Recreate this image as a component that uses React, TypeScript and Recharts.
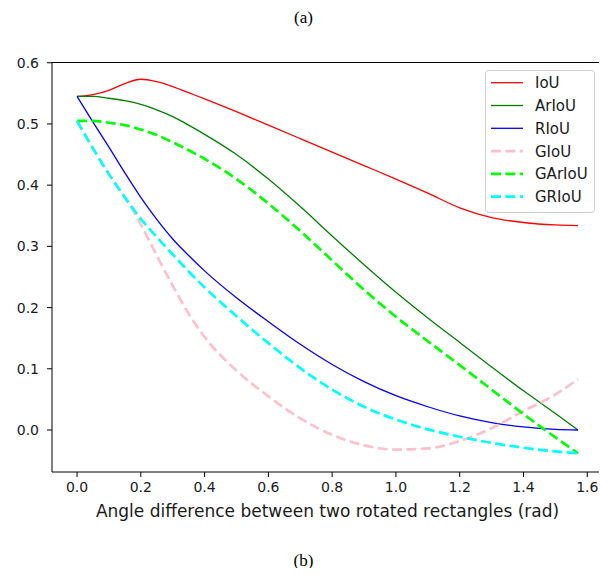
import { Label, Legend, Line, LineChart, XAxis, YAxis } from "recharts";

// Ângulo (rad) e as seis curvas, lidas ponto a ponto da figura.
const angulos = [0, 0.05, 0.1, 0.15, 0.2, 0.25, 0.3, 0.35, 0.4, 0.5, 0.6, 0.7, 0.8, 0.9, 1.0, 1.1, 1.2, 1.3, 1.4, 1.5, 1.5708];

const iou = [0.545, 0.548, 0.555, 0.566, 0.573, 0.569, 0.561, 0.551, 0.541, 0.52, 0.498, 0.476, 0.454, 0.432, 0.41, 0.387, 0.363, 0.347, 0.339, 0.335, 0.334];
const ariou = [0.545, 0.545, 0.542, 0.538, 0.532, 0.523, 0.512, 0.498, 0.483, 0.45, 0.41, 0.365, 0.317, 0.27, 0.225, 0.183, 0.143, 0.103, 0.064, 0.027, 0.0];
const riou = [0.545, 0.503, 0.462, 0.42, 0.38, 0.344, 0.312, 0.285, 0.26, 0.216, 0.177, 0.14, 0.107, 0.079, 0.056, 0.038, 0.023, 0.012, 0.005, 0.001, 0.0];
const giou = [0.505, 0.46, 0.418, 0.38, 0.336, 0.285, 0.236, 0.19, 0.152, 0.097, 0.055, 0.019, -0.008, -0.025, -0.032, -0.03, -0.018, 0.003, 0.031, 0.058, 0.083];
const gariou = [0.505, 0.505, 0.502, 0.498, 0.491, 0.482, 0.47, 0.457, 0.443, 0.41, 0.37, 0.325, 0.277, 0.229, 0.185, 0.145, 0.106, 0.066, 0.026, -0.012, -0.038];
const griou = [0.505, 0.46, 0.418, 0.38, 0.345, 0.315, 0.287, 0.259, 0.233, 0.186, 0.142, 0.101, 0.066, 0.038, 0.017, 0.001, -0.011, -0.021, -0.029, -0.035, -0.038];

const ticksX = [0, 0.2, 0.4, 0.6, 0.8, 1.0, 1.2, 1.4, 1.6];
const ticksY = [0, 0.1, 0.2, 0.3, 0.4, 0.5, 0.6];

const dominioX = [-0.0785, 1.6493];
const dominioY = [-0.0686, 0.6012];

const series = [
  { nome: "IoU", valores: iou, cor: "#ff0000", largura: 1.3, traco: undefined },
  { nome: "ArIoU", valores: ariou, cor: "#008000", largura: 1.3, traco: undefined },
  { nome: "RIoU", valores: riou, cor: "#0000ff", largura: 1.3, traco: undefined },
  { nome: "GIoU", valores: giou, cor: "#ffc0cb", largura: 2.7, traco: "10 4.4" },
  { nome: "GArIoU", valores: gariou, cor: "#00ff00", largura: 2.7, traco: "10 4.4" },
  { nome: "GRIoU", valores: griou, cor: "#00ffff", largura: 2.7, traco: "10 4.4" },
];

const dados = angulos.map((x, i) => {
  const linha: Record<string, number> = { x };
  series.forEach((s) => (linha[s.nome] = s.valores[i]));
  return linha;
});

const fonte = "'DejaVu Sans', sans-serif";
const corTexto = "#1a1a1a";
const fmt = (v: number) => v.toFixed(1);

// margens do gráfico: a área de plotagem fica em (44, 54) com 551 x 410
const margem = { top: 54, right: 4, left: 4, bottom: 66 };

// legenda no estilo do matplotlib: caixa arredondada cinza clara
function Legenda() {
  return (
    <svg width={110} height={143} style={{ display: "block" }}>
      <rect x={0.5} y={0.5} width={109} height={142} rx={3} fill="rgba(255,255,255,0.8)" stroke="#d0d0d0" />
      {series.map((s, i) => {
        const y = 12.7 + i * 22.8;
        return (
          <g key={s.nome}>
            <line x1={6} x2={38} y1={y} y2={y} stroke={s.cor} strokeWidth={s.largura} strokeDasharray={s.traco} />
            <text x={50} y={y} dy="0.36em" fontFamily={fonte} fontSize={15} fill={corTexto}>
              {s.nome}
            </text>
          </g>
        );
      })}
    </svg>
  );
}

const estiloTitulo = { position: "absolute" as const, left: 0, width: 591, textAlign: "center" as const, fontFamily: "'Liberation Serif', serif", fontSize: 17, lineHeight: "20px" };

export default function App() {
  return (
    <div style={{ position: "relative", width: 599, height: 560 }}>
      <div style={{ ...estiloTitulo, top: 0 }}>(a)</div>
      <LineChart width={599} height={560} data={dados} margin={margem}>
        <XAxis
          dataKey="x"
          type="number"
          domain={dominioX}
          allowDataOverflow
          ticks={ticksX}
          tickFormatter={fmt}
          height={30}
          tickSize={5}
          tickMargin={5}
          stroke="#000"
          tick={{ fill: corTexto, fontFamily: fonte, fontSize: 14 }}
        >
          <Label
            value="Angle difference between two rotated rectangles (rad)"
            position="bottom"
            offset={3}
            style={{ fill: corTexto, fontFamily: fonte, fontSize: 17 }}
          />
        </XAxis>
        <YAxis
          type="number"
          domain={dominioY}
          allowDataOverflow
          ticks={ticksY}
          tickFormatter={fmt}
          width={40}
          tickSize={5}
          tickMargin={8}
          stroke="#000"
          tick={{ fill: corTexto, fontFamily: fonte, fontSize: 14 }}
        />
        <Legend
          layout="vertical"
          align="center"
          verticalAlign="middle"
          content={() => <Legenda />}
          wrapperStyle={{ left: 477, top: 62, width: 110, height: 143 }}
        />
        {series.map((s) => (
          <Line
            key={s.nome}
            dataKey={s.nome}
            type="monotone"
            stroke={s.cor}
            strokeWidth={s.largura}
            strokeDasharray={s.traco}
            dot={false}
            activeDot={false}
            isAnimationActive={false}
          />
        ))}
      </LineChart>
      {/* bordas de cima e da direita da moldura (spines do matplotlib) */}
      <div
        style={{
          position: "absolute",
          left: 44,
          top: 54,
          width: 552,
          height: 410,
          borderTop: "1px solid #000",
          borderRight: "1px solid #000",
          boxSizing: "border-box",
          pointerEvents: "none",
          zIndex: 5,
        }}
      />
      <div style={{ ...estiloTitulo, top: 543 }}>(b)</div>
    </div>
  );
}
